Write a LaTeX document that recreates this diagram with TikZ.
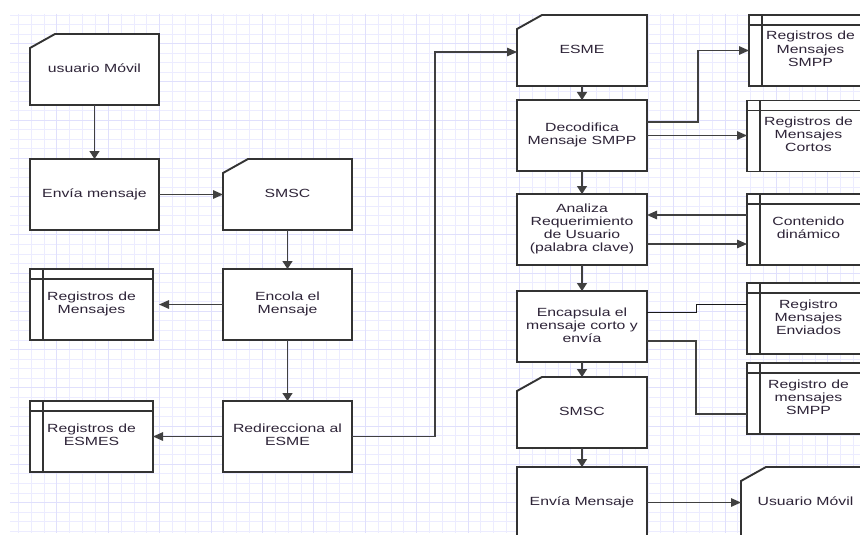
\documentclass[tikz,border=0pt]{standalone}
\usepackage{fontspec}
\setmainfont{Liberation Sans}
\usepackage{graphicx}
\usetikzlibrary{arrows.meta}
\definecolor{txt}{HTML}{2E2438}
\definecolor{bord}{HTML}{333333}
\definecolor{conn}{HTML}{404040}
\definecolor{gminor}{RGB}{236,236,255}
\definecolor{gmajor}{RGB}{224,224,252}
\newcommand{\tx}[1]{\scalebox{1}[0.75]{\begin{tabular}{@{}c@{}}#1\end{tabular}}}
\pgfdeclarelayer{gridlayer}
\pgfdeclarelayer{cardlayer}
\pgfsetlayers{gridlayer,cardlayer,main}
\begin{document}
\begin{tikzpicture}[x=1pt,y=-1pt,
  box/.style={draw=bord,line width=1.9pt,fill=white,rectangle,minimum width=129pt,
    minimum height=71pt,inner sep=0pt,outer sep=0pt,text=txt,
    font=\fontsize{15.8}{17.5}\selectfont},
  cardbox/.style={box,draw=none,fill=none},
  listbox/.style={box,minimum width=123pt},
  cardline/.style={draw=bord,line width=1.9pt,fill=white,line join=miter},
  innerline/.style={draw=bord,line width=1.9pt},
  conn/.style={draw=conn,line width=1.4pt},
  harr/.style={conn,-{Triangle[length=10pt,width=8.5pt]}},
  varr/.style={conn,-{Triangle[length=8pt,width=10pt]}},
  plain/.style={draw=black!90,line width=1pt}
]
\useasboundingbox (0,0) rectangle (860,535);

% background and grid
\begin{pgfonlayer}{gridlayer}
\fill[white] (0,0) rectangle (860,535);
\foreach \k in {0,...,65} \draw[gminor,line width=0.9pt] ({18.3+12.85*\k},14) -- ({18.3+12.85*\k},533);
\foreach \k in {0,...,54} \draw[gminor,line width=0.9pt] (10,{15+9.56*\k}) -- (860,{15+9.56*\k});
\foreach \k in {3,7,...,63} \draw[gmajor,line width=1pt] ({18.3+12.85*\k},14) -- ({18.3+12.85*\k},533);
\foreach \k in {3,7,...,51} \draw[gmajor,line width=1pt] (10,{15+9.56*\k}) -- (860,{15+9.56*\k});
\end{pgfonlayer}

% left column
\node[cardbox] (um1) at (94.5,69.5) {\tx{usuario Móvil}};
\node[box] (envia1) at (94.5,194.5) {\tx{Envía mensaje}};
\node[listbox] (regmsg) at (91.5,304.5) {\tx{Registros de\\Mensajes}};
\node[listbox] (regesmes) at (91.5,436.5) {\tx{Registros de\\ESMES}};

% second column
\node[cardbox] (smsc1) at (287.5,194.5) {\tx{SMSC}};
\node[box] (encola) at (287.5,304.5) {\tx{Encola el\\Mensaje}};
\node[box] (redir) at (287.5,436.5) {\tx{Redirecciona al\\ESME}};

% third column
\node[cardbox,minimum width=130pt] (esme) at (582,50.5) {\tx{ESME}};
\node[box,minimum width=130pt] (decod) at (582,135.5) {\tx{Decodifica\\Mensaje SMPP}};
\node[box,minimum width=130pt] (analiza) at (582,229.5) {\tx{Analiza\\Requerimiento\\de Usuario\\(palabra clave)}};
\node[box,minimum width=130pt] (encap) at (582,326.5) {\tx{Encapsula el\\mensaje corto y\\envía}};
\node[cardbox,minimum width=130pt] (smsc2) at (582,412.5) {\tx{SMSC}};
\node[box,minimum width=130pt] (envia2) at (582,502.5) {\tx{Envía Mensaje}};

% right column
\node[listbox] (regsmpp) at (810.5,50.5) {\tx{Registros de\\Mensajes\\SMPP}};
\node[listbox] (regcortos) at (808.5,136) {\tx{Registros de\\Mensajes\\Cortos}};
\node[listbox] (contenido) at (808.5,229.5) {\tx{Contenido\\dinámico}};
\node[listbox] (regenv) at (808.5,318.5) {\tx{Registro\\Mensajes\\Enviados}};
\node[listbox] (regsmpp2) at (808.5,398.5) {\tx{Registro de\\mensajes\\SMPP}};
\node[cardbox] (um2) at (805.5,502.5) {\tx{Usuario Móvil}};

% card outlines
\begin{pgfonlayer}{cardlayer}
\foreach \n in {um1,smsc1,esme,smsc2,um2}
  \draw[cardline] (\n.south west) -- ([yshift=-14pt]\n.north west) -- ([xshift=25pt]\n.north west)
    -- (\n.north east) -- (\n.south east) -- cycle;
\end{pgfonlayer}

% list box inner lines
\foreach \n in {regmsg,regesmes,regsmpp,regcortos,contenido,regenv,regsmpp2} {
  \draw[innerline] ([xshift=13pt]\n.north west) -- ([xshift=13pt]\n.south west);
  \draw[innerline] ([yshift=-10pt]\n.north west) -- ([yshift=-10pt]\n.north east);
}

% coordinates for bends
\coordinate (j1) at (435,0);
\coordinate (j2) at (698,0);
\coordinate (j3) at (696,0);
\coordinate (d1) at ([yshift=13.5pt]decod.east);
\coordinate (e1) at ([yshift=14.5pt]encap.east);
\coordinate (e2) at ([yshift=-14.5pt]encap.east);
\coordinate (r1) at ([yshift=14.5pt]regenv.west);
\coordinate (r2) at ([yshift=-15.5pt]regsmpp2.west);

% connectors
\draw[varr] (um1.south) -- (envia1.north);
\draw[harr] (envia1.east) -- (smsc1.west);
\draw[varr] (smsc1.south) -- (encola.north);
\draw[harr,shorten >=6pt] (encola.west) -- (regmsg.east);
\draw[varr] (encola.south) -- (redir.north);
\draw[harr] (redir.west) -- (regesmes.east);
\draw[harr] (redir.east) -- (redir.east -| j1) -- ([yshift=-1.5pt]esme.west -| j1) -- ([yshift=-1.5pt]esme.west);
\draw[varr] (esme.south) -- (decod.north);
\draw[harr] (d1) -- (d1 -| j2) -- (regsmpp.west -| j2) -- (regsmpp.west);
\draw[harr] (decod.east) -- (decod.east -| regcortos.west);
\draw[varr] (decod.south) -- (analiza.north);
\draw[harr] ([yshift=14.5pt]contenido.west) -- ([yshift=14.5pt]analiza.east);
\draw[harr] ([yshift=-14.5pt]analiza.east) -- ([yshift=-14.5pt]contenido.west);
\draw[varr] (analiza.south) -- (encap.north);
\draw[plain] (e1) -- (e1 -| j3) -- (r1 -| j3) -- (r1);
\draw[conn] (e2) -- (e2 -| j3) -- (r2 -| j3) -- (r2);
\draw[varr] (encap.south) -- (smsc2.north);
\draw[varr] (smsc2.south) -- (envia2.north);
\draw[harr] (envia2.east) -- (envia2.east -| um2.west);
\end{tikzpicture}
\end{document}
